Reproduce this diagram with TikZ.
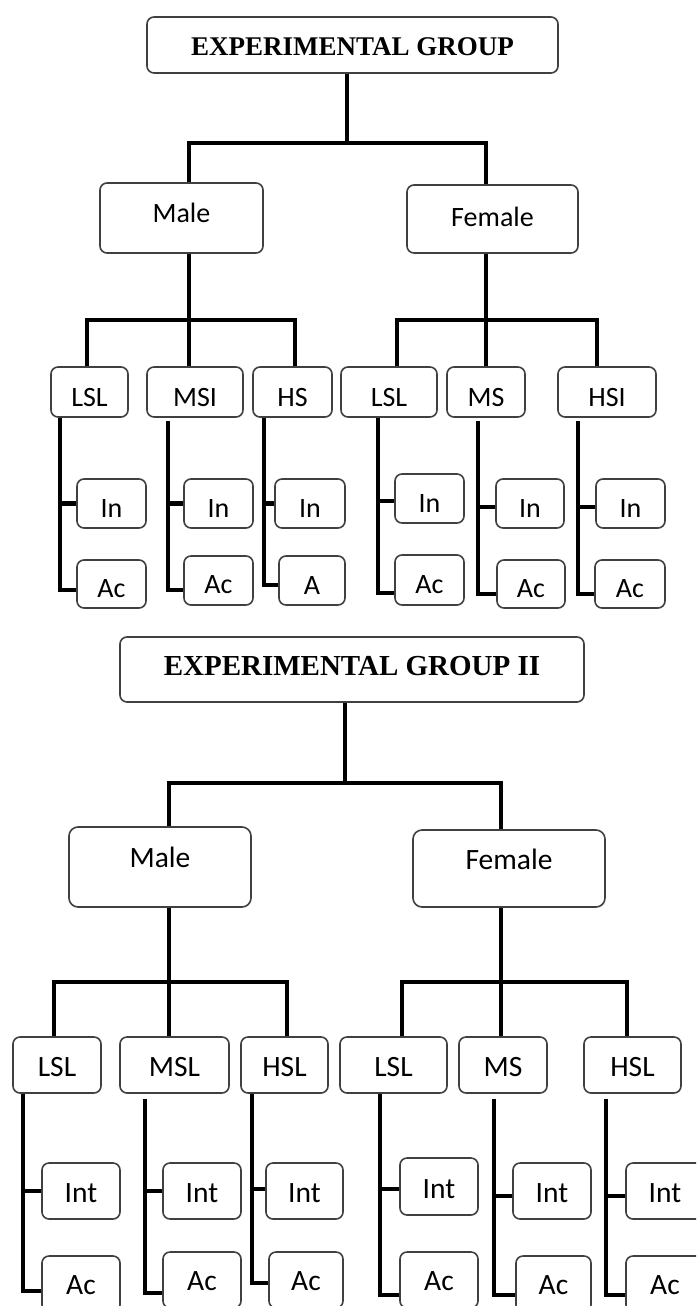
\documentclass[tikz,border=0pt]{standalone}
\usepackage{fontspec}
\setmainfont{Carlito}
\newfontfamily\ttlfont{Liberation Serif}
\definecolor{boxgray}{RGB}{64,64,64}
\begin{document}
\begin{tikzpicture}[x=1pt,y=-1pt,
  box/.style={draw=boxgray, line width=1.6pt, rounded corners=7pt, fill=white, inner sep=0pt},
  conn/.style={line width=4.8pt, line join=miter, draw=black},
  lblA/.style={inner sep=0pt, anchor=base, font=\fontsize{28}{30}\selectfont},
  lblB/.style={inner sep=0pt, anchor=base, font=\fontsize{29.5}{32}\selectfont},
  ttlA/.style={inner sep=0pt, anchor=base, font=\ttlfont\bfseries\fontsize{27}{30}\selectfont},
  ttlB/.style={inner sep=0pt, anchor=base, font=\ttlfont\bfseries\fontsize{29}{32}\selectfont},
]
\useasboundingbox (0,0) rectangle (696,1306);
\clip (0,0) rectangle (696,1306);
\fill[white] (0,0) rectangle (696,1306);

% ================= GROUP I =================
\node[box, minimum width=411, minimum height=56] (t1) at (352.5,45) {};
\node[ttlA] at ([yshift=18]t1.south) {EXPERIMENTAL GROUP};
\node[box, minimum width=163, minimum height=70] (m1) at (181.5,218) {};
\node[lblA] at ([yshift=31]m1.south) {Male};
\node[box, minimum width=171, minimum height=68] (f1) at (492.5,219) {};
\node[lblA] at ([yshift=27]f1.south) {Female};

\node[box, minimum width=77, minimum height=50] (a1) at (89.5,392) {};
\node[box, minimum width=96, minimum height=50] (a2) at (195,392) {};
\node[box, minimum width=79, minimum height=50] (a3) at (292.5,392) {};
\node[box, minimum width=96, minimum height=50] (a4) at (389,392) {};
\node[box, minimum width=78, minimum height=50] (a5) at (486,392) {};
\node[box, minimum width=98, minimum height=50] (a6) at (607,392) {};
\node[lblA] at ([yshift=11]a1.south) {LSL};
\node[lblA] at ([yshift=11]a2.south) {MSI};
\node[lblA] at ([yshift=11]a3.south) {HS};
\node[lblA] at ([yshift=11]a4.south) {LSL};
\node[lblA] at ([yshift=11]a5.south) {MS};
\node[lblA] at ([yshift=11]a6.south) {HSI};

\node[box, minimum width=69, minimum height=49] (i1) at (111.5,503.5) {};
\node[box, minimum width=69, minimum height=49] (i2) at (218.5,503.5) {};
\node[box, minimum width=70, minimum height=49] (i3) at (310,503.5) {};
\node[box, minimum width=69, minimum height=49] (i4) at (429.5,498.5) {};
\node[box, minimum width=68, minimum height=49] (i5) at (530,503.5) {};
\node[box, minimum width=69, minimum height=49] (i6) at (630.5,503.5) {};
\foreach \n in {i1,i2,i3,i4,i5,i6} \node[lblA] at ([yshift=11]\n.south) {In};

\node[box, minimum width=69, minimum height=48] (c1) at (111.5,584) {};
\node[box, minimum width=69, minimum height=49] (c2) at (218.5,580.5) {};
\node[box, minimum width=66, minimum height=49] (c3) at (312,580.5) {};
\node[box, minimum width=69, minimum height=50] (c4) at (429.5,580) {};
\node[box, minimum width=68, minimum height=48] (c5) at (531,584) {};
\node[box, minimum width=70, minimum height=48] (c6) at (630,584) {};
\node[lblA] at ([yshift=11]c1.south) {Ac};
\node[lblA] at ([yshift=12]c2.south) {Ac};
\node[lblA] at ([yshift=11]c3.south) {A};
\node[lblA] at ([yshift=12]c4.south) {Ac};
\node[lblA] at ([yshift=11]c5.south) {Ac};
\node[lblA] at ([yshift=11]c6.south) {Ac};

% connectors group I
\coordinate (g1) at (347,143);
\draw[conn] (g1 |- t1.south) -- (g1);
\draw[conn] ([xshift=7.5]m1.north) |- (g1) -| ([xshift=-6.5]f1.north);
\coordinate (h1) at (189,320);
\draw[conn] ([xshift=7.5]m1.south) -- (h1);
\draw[conn] ([xshift=-2.5]a1.north) |- (h1) -| ([xshift=2.5]a3.north);
\draw[conn] (h1) -- ([xshift=-6]a2.north);
\coordinate (h2) at (486,320);
\draw[conn] ([xshift=-6.5]f1.south) -- (h2);
\draw[conn] ([xshift=8]a4.north) |- (h2) -| ([xshift=-10]a6.north);
\draw[conn] (h2) -- (a5.north);

\coordinate (s1) at (60,0);
\coordinate (s2) at (168,0);
\coordinate (s3) at (264,0);
\coordinate (s4) at (378,0);
\coordinate (s5) at (478,0);
\coordinate (s6) at (578,0);
\coordinate (i4w) at ([yshift=-2.5]i4.west);
\coordinate (i5w) at ([yshift=-3.5]i5.west);
\coordinate (i6w) at ([yshift=-3.5]i6.west);
\draw[conn] (s1 |- a1.south) |- ([yshift=-6]c1.west);
\draw[conn] (s1 |- i1.west) -- (i1.west);
\draw[conn, shorten <=3pt] (s2 |- a2.south) |- ([yshift=-9.5]c2.west);
\draw[conn] (s2 |- i2.west) -- (i2.west);
\draw[conn] (s3 |- a3.south) |- ([yshift=-4.5]c3.west);
\draw[conn] (s3 |- i3.west) -- (i3.west);
\draw[conn] (s4 |- a4.south) |- ([yshift=-13]c4.west);
\draw[conn] (s4 |- i4w) -- (i4w);
\draw[conn, shorten <=3pt] (s5 |- a5.south) |- ([yshift=-10]c5.west);
\draw[conn] (s5 |- i5w) -- (i5w);
\draw[conn, shorten <=3pt] (s6 |- a6.south) |- ([yshift=-10]c6.west);
\draw[conn] (s6 |- i6w) -- (i6w);

% ================= GROUP II =================
\node[box, minimum width=464, minimum height=65] (t2) at (352,669.5) {};
\node[ttlB] at ([yshift=27]t2.south) {EXPERIMENTAL GROUP II};
\node[box, minimum width=182, minimum height=80, rounded corners=9pt] (m2) at (160,867) {};
\node[lblB] at ([yshift=40]m2.south) {Male};
\node[box, minimum width=192, minimum height=77, rounded corners=9pt] (f2) at (509,868.5) {};
\node[lblB] at ([yshift=38]f2.south) {Female};

\node[box, minimum width=88, minimum height=56] (b1) at (57,1065) {};
\node[box, minimum width=109, minimum height=56] (b2) at (174.5,1065) {};
\node[box, minimum width=87, minimum height=56] (b3) at (284.5,1065) {};
\node[box, minimum width=107, minimum height=56] (b4) at (393.5,1065) {};
\node[box, minimum width=88, minimum height=56] (b5) at (503,1065) {};
\node[box, minimum width=97, minimum height=56] (b6) at (632.5,1065) {};
\node[lblB] at ([yshift=17]b1.south) {LSL};
\node[lblB] at ([yshift=17]b2.south) {MSL};
\node[lblB] at ([yshift=17]b3.south) {HSL};
\node[lblB] at ([yshift=17]b4.south) {LSL};
\node[lblB] at ([yshift=17]b5.south) {MS};
\node[lblB] at ([yshift=17]b6.south) {HSL};

\node[box, minimum width=78, minimum height=56] (j1) at (81,1191) {};
\node[box, minimum width=78, minimum height=56] (j2) at (202,1191) {};
\node[box, minimum width=77, minimum height=56] (j3) at (304.5,1191) {};
\node[box, minimum width=78, minimum height=57] (j4) at (439,1186.5) {};
\node[box, minimum width=78, minimum height=56] (j5) at (552,1191) {};
\node[box, minimum width=78, minimum height=56] (j6) at (665,1191) {};
\foreach \n in {j1,j2,j3,j4,j5,j6} \node[lblB] at ([yshift=17]\n.south) {Int};

\node[box, minimum width=78, minimum height=56] (k1) at (81,1284) {};
\node[box, minimum width=78, minimum height=56] (k2) at (202,1280) {};
\node[box, minimum width=74, minimum height=56] (k3) at (306,1280) {};
\node[box, minimum width=78, minimum height=56] (k4) at (439,1280) {};
\node[box, minimum width=75, minimum height=56] (k5) at (553.5,1284) {};
\node[box, minimum width=78, minimum height=56] (k6) at (665,1284) {};
\foreach \n in {k1,k2,k3,k4,k5,k6} \node[lblB] at ([yshift=-39]\n.north) {Ac};

% connectors group II
\coordinate (g2) at (345,783);
\draw[conn] (g2 |- t2.south) -- (g2);
\draw[conn] ([xshift=9]m2.north) |- (g2) -| ([xshift=-8]f2.north);
\coordinate (h3) at (169,982);
\draw[conn] ([xshift=9]m2.south) -- (h3);
\draw[conn] ([xshift=-3]b1.north) |- (h3) -| ([xshift=2.5]b3.north);
\draw[conn] (h3) -- ([xshift=-5.5]b2.north);
\coordinate (h4) at (501,982);
\draw[conn] ([xshift=-8]f2.south) -- (h4);
\draw[conn] ([xshift=8.5]b4.north) |- (h4) -| ([xshift=-5.5]b6.north);
\draw[conn] (h4) -- ([xshift=-2]b5.north);

\coordinate (u1) at (23,0);
\coordinate (u2) at (145,0);
\coordinate (u3) at (252,0);
\coordinate (u4) at (380,0);
\coordinate (u5) at (494,0);
\coordinate (u6) at (606,0);
\coordinate (j3w) at ([yshift=2]j3.west);
\coordinate (j4w) at ([yshift=-2.5]j4.west);
\coordinate (j5w) at ([yshift=-5]j5.west);
\coordinate (j6w) at ([yshift=-5]j6.west);
\draw[conn] (u1 |- b1.south) |- ([yshift=-7]k1.west);
\draw[conn] (u1 |- j1.west) -- (j1.west);
\draw[conn, shorten <=5pt] (u2 |- b2.south) |- ([yshift=-13]k2.west);
\draw[conn] (u2 |- j2.west) -- (j2.west);
\draw[conn] (u3 |- b3.south) |- ([yshift=-3]k3.west);
\draw[conn] (u3 |- j3w) -- (j3w);
\draw[conn] (u4 |- b4.south) |- ([yshift=-15]k4.west);
\draw[conn] (u4 |- j4w) -- (j4w);
\draw[conn, shorten <=5pt] (u5 |- b5.south) |- ([yshift=-11]k5.west);
\draw[conn] (u5 |- j5w) -- (j5w);
\draw[conn, shorten <=5pt] (u6 |- b6.south) |- ([yshift=-11]k6.west);
\draw[conn] (u6 |- j6w) -- (j6w);
\end{tikzpicture}
\end{document}
